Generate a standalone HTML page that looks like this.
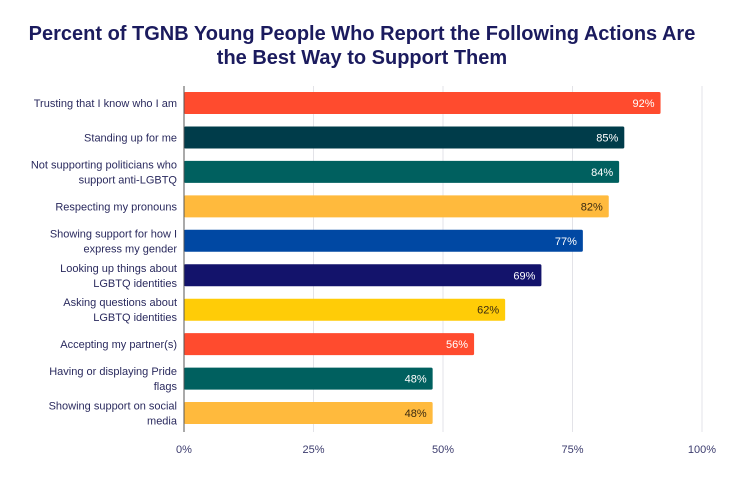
<!DOCTYPE html>
<html><head><meta charset="utf-8"><style>
body{margin:0;background:#fff;width:741px;height:476px;overflow:hidden;font-family:"Liberation Sans",sans-serif}
</style></head><body>
<svg width="741" height="476">
<text x="362" y="40" text-anchor="middle" font-size="20" font-weight="bold" fill="#1b1b5e">Percent of TGNB Young People Who Report the Following Actions Are</text>
<text x="362" y="64" text-anchor="middle" font-size="20" font-weight="bold" fill="#1b1b5e">the Best Way to Support Them</text>
<g id="grid"></g><g id="bars"></g><g id="axis"></g>
</svg>
<script>
const categories=[["Trusting that I know who I am"],["Standing up for me"],["Not supporting politicians who","support anti-LGBTQ"],["Respecting my pronouns"],["Showing support for how I","express my gender"],["Looking up things about","LGBTQ identities"],["Asking questions about","LGBTQ identities"],["Accepting my partner(s)"],["Having or displaying Pride","flags"],["Showing support on social","media"]];
const values=[92,85,84,82,77,69,62,56,48,48];
const colors=["#ff4b2e","#003c4a","#00605f","#ffba3d","#0048a3","#13136b","#ffcc07","#ff4b2e","#00605f","#ffba3d"];
const textColors=["#fff","#fff","#fff","#3a2a10","#fff","#fff","#3a2a10","#fff","#fff","#3a2a10"];
const ticks=[0,25,50,75,100];
const ticksLabels=["0%","25%","50%","75%","100%"];
const NS="http://www.w3.org/2000/svg";
const x=v=>184+v*5.18, y=i=>103+i*34.45;
function mk(t,a,p){const e=document.createElementNS(NS,t);for(const k in a)e.setAttribute(k,a[k]);p.appendChild(e);return e;}
const g=document.getElementById('grid'),b=document.getElementById('bars'),ax=document.getElementById('axis');
ticks.forEach((t,i)=>{
 const l=mk('line',{x1:x(t),x2:x(t),y1:86,y2:432,stroke:'#e3e3e8','stroke-width':1},g);
 
 
 const tx=mk('text',{x:x(t),y:453,'text-anchor':'middle','font-size':11,fill:'#3c3c6e'},ax);
 tx.textContent=ticksLabels[i];
 
 
});
values.forEach((v,i)=>{
 const r=mk('rect',{x:x(0),y:y(i)-11,width:x(v)-x(0),height:22,rx:1.5,fill:colors[i]},b);
 
 
 const t=mk('text',{x:x(v)-6,y:y(i)+4,'text-anchor':'end','font-size':11,fill:textColors[i]},b);
 t.textContent=v+'%';
 
 
 const lines=categories[i];
 lines.forEach((s,j)=>{
  const c=mk('text',{x:177,y:y(i)+4+(j-(lines.length-1)/2)*15,'text-anchor':'end','font-size':11,fill:'#2a2a5e'},ax);
  c.textContent=s;
  
  
 });
});
const a=mk('line',{x1:184,x2:184,y1:86,y2:432,stroke:'#555','stroke-width':1},ax);


</script>
</body></html>
